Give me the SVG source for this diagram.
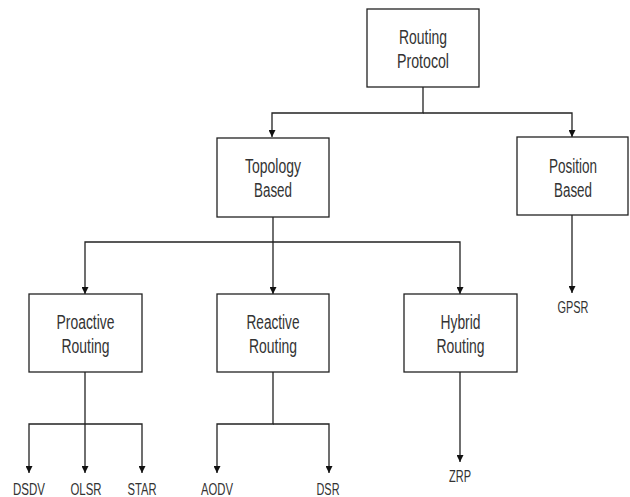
<svg xmlns="http://www.w3.org/2000/svg" width="630" height="497" viewBox="0 0 630 497">
<defs>
<marker id="arr" viewBox="0 0 10 10" refX="10" refY="5" markerWidth="7" markerHeight="7" orient="auto" markerUnits="userSpaceOnUse">
<path d="M0,0 L10,5 L0,10 z" fill="#111"/>
</marker>
<style>
.box{fill:#fff;stroke:#222;stroke-width:1.3}
.t{font-family:"Liberation Sans",Arial,sans-serif;font-size:20px;fill:#333;text-anchor:middle}
.l{font-family:"Liberation Sans",Arial,sans-serif;font-size:16px;fill:#333;text-anchor:middle}
.c{fill:none;stroke:#222;stroke-width:1.3}
</style>
</defs>
<rect width="630" height="497" fill="#fff"/>
<g id="connectors">
<path class="c" d="M423,87 V113 H272 V137" marker-end="url(#arr)"/>
<path class="c" d="M423,113 H572 V137" marker-end="url(#arr)"/>
<path class="c" d="M273,217 V294" marker-end="url(#arr)"/>
<path class="c" d="M273,242 H85 V294" marker-end="url(#arr)"/>
<path class="c" d="M273,242 H460 V294" marker-end="url(#arr)"/>
<path class="c" d="M572,215 V293" marker-end="url(#arr)"/>
<path class="c" d="M85,372 V473" marker-end="url(#arr)"/>
<path class="c" d="M85,424 H29 V473" marker-end="url(#arr)"/>
<path class="c" d="M85,424 H142 V473" marker-end="url(#arr)"/>
<path class="c" d="M273,372 V424 H217 V473" marker-end="url(#arr)"/>
<path class="c" d="M273,424 H329 V473" marker-end="url(#arr)"/>
<path class="c" d="M460,372 V462" marker-end="url(#arr)"/>
</g>
<g id="routing-protocol">
<rect class="box" x="367" y="9" width="112" height="78"/>
<text class="t" x="423" y="44" textLength="48" lengthAdjust="spacingAndGlyphs">Routing</text>
<text class="t" x="423" y="68" textLength="52" lengthAdjust="spacingAndGlyphs">Protocol</text>
</g>
<g id="topology-based">
<rect class="box" x="217" y="138" width="112" height="79"/>
<text class="t" x="273" y="173" textLength="56" lengthAdjust="spacingAndGlyphs">Topology</text>
<text class="t" x="273" y="197" textLength="38" lengthAdjust="spacingAndGlyphs">Based</text>
</g>
<g id="position-based">
<rect class="box" x="517" y="137" width="111" height="78"/>
<text class="t" x="573" y="173" textLength="48" lengthAdjust="spacingAndGlyphs">Position</text>
<text class="t" x="573" y="197" textLength="38" lengthAdjust="spacingAndGlyphs">Based</text>
</g>
<g id="proactive-routing">
<rect class="box" x="29" y="294" width="113" height="78"/>
<text class="t" x="85.5" y="329" textLength="58" lengthAdjust="spacingAndGlyphs">Proactive</text>
<text class="t" x="85.5" y="353" textLength="48" lengthAdjust="spacingAndGlyphs">Routing</text>
</g>
<g id="reactive-routing">
<rect class="box" x="217" y="294" width="112" height="78"/>
<text class="t" x="273" y="329" textLength="53" lengthAdjust="spacingAndGlyphs">Reactive</text>
<text class="t" x="273" y="353" textLength="48" lengthAdjust="spacingAndGlyphs">Routing</text>
</g>
<g id="hybrid-routing">
<rect class="box" x="404" y="294" width="113" height="78"/>
<text class="t" x="460.5" y="329" textLength="40" lengthAdjust="spacingAndGlyphs">Hybrid</text>
<text class="t" x="460.5" y="353" textLength="48" lengthAdjust="spacingAndGlyphs">Routing</text>
</g>
<g id="dsdv"><text class="l" x="29" y="495" textLength="32" lengthAdjust="spacingAndGlyphs">DSDV</text></g>
<g id="olsr"><text class="l" x="86" y="495" textLength="31" lengthAdjust="spacingAndGlyphs">OLSR</text></g>
<g id="star"><text class="l" x="142" y="495" textLength="29" lengthAdjust="spacingAndGlyphs">STAR</text></g>
<g id="aodv"><text class="l" x="217" y="495" textLength="32" lengthAdjust="spacingAndGlyphs">AODV</text></g>
<g id="dsr"><text class="l" x="328" y="495" textLength="23" lengthAdjust="spacingAndGlyphs">DSR</text></g>
<g id="zrp"><text class="l" x="460" y="482" textLength="22" lengthAdjust="spacingAndGlyphs">ZRP</text></g>
<g id="gpsr"><text class="l" x="573" y="313" textLength="31" lengthAdjust="spacingAndGlyphs">GPSR</text></g>
</svg>
